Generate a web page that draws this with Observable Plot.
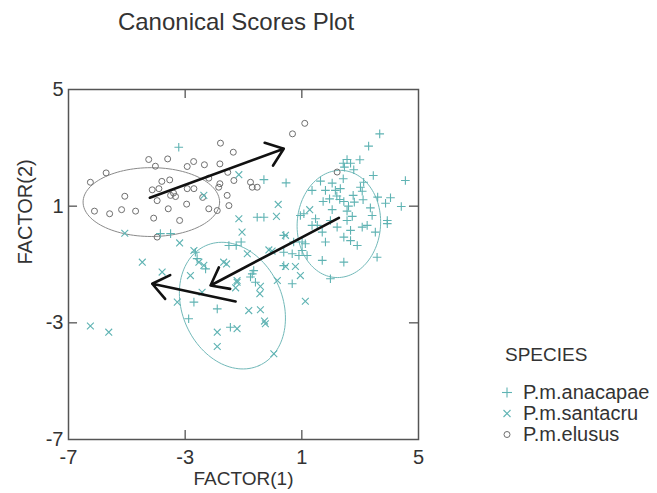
<!DOCTYPE html>
<html>
<head>
<meta charset="utf-8">
<script src="https://cdn.jsdelivr.net/npm/d3@7"></script>
<script src="https://cdn.jsdelivr.net/npm/@observablehq/plot@0.6"></script>
<style>
  body { margin: 0; background: #fff; }
  #wrap { position: relative; width: 657px; height: 493px; font-family: "Liberation Sans", Arial, sans-serif; color: #333; }
  #wrap > svg { position: absolute; left: 0; top: 0; }
  #title { position: absolute; left: 0; top: 8px; width: 472px; text-align: center; font-size: 24px; line-height: 28px; color: #333; }
  #legend { position: absolute; left: 496px; top: 340px; font-size: 20px; color: #333; }
  #legend .head { margin-left: 9px; font-size: 19px; line-height: 30px; height: 30px; }
  #legend .row { display: flex; align-items: center; height: 21px; line-height: 21px; }
  #legend .row svg { width: 22px; height: 21px; margin-right: 5px; }
</style>
</head>
<body>
<div id="wrap"></div>
<script>
// ---- data ----
const title = "Canonical Scores Plot";
const xLabel = "FACTOR(1)";
const yLabel = "FACTOR(2)";
const legendTitle = "SPECIES";
const speciesNames = ["P.m.anacapae", "P.m.santacru", "P.m.elusus"];
const xTicks = [-7, -3, 1, 5];
const yTicks = [5, 1, -3, -7];

const anacapaeX = [3.67,3.29,2.99,2.42,2.67,2.46,2.78,3.45,4.55,0.46,1.64,2.04,2.42,1.81,2.15,2.32,3.12,2.76,3.07,1.73,2.30,2.44,2.80,3.10,3.60,4.04,4.41,3.87,1.35,2.04,2.55,2.73,3.35,3.41,3.93,1.07,1.47,-0.30,-0.53,-0.30,0.95,3.07,3.24,3.52,2.21,1.70,1.81,1.01,1.12,0.38,0.72,2.67,2.90,3.93,1.01,0.38,0.67,0.90,1.18,1.70,1.98,2.44,2.44,2.67,1.35,1.53,-1.08,-1.25,-0.65,-0.76,-1.50,-2.65,-2.59,-2.30,-0.70,-0.59,-1.90,-2.70,-2.88,-1.45,-3.22,-3.50,-3.85,2.55,3.01,2.55,1.98,2.20,1.95,2.60,3.58,0.67,0.38];
const anacapaeY = [3.48,3.06,2.59,2.47,2.47,2.34,2.25,2.05,1.88,1.80,1.86,1.79,1.94,1.54,1.54,1.60,1.82,1.37,1.51,1.16,1.23,1.16,1.14,1.22,1.31,1.29,0.99,1.10,1.54,0.88,0.83,0.65,0.94,0.68,0.51,0.74,0.57,1.91,0.62,0.62,0.68,0.28,0.34,0.11,0.28,0.11,-0.23,-0.52,-0.29,0.00,-0.23,-0.18,-0.35,0.40,-0.23,-0.58,-0.63,-0.69,-0.69,-0.86,-1.49,-0.92,-0.06,0.17,0.34,0.34,-0.23,-0.35,-1.21,-1.43,-0.35,-0.58,-0.80,-1.15,-1.32,-1.61,-2.52,-2.29,-2.86,-3.15,3.02,0.06,0.06,2.60,1.65,0.51,0.51,1.35,1.25,1.00,-0.75,-1.66,-1.04];

const santacruX = [-2.36,-1.16,-1.05,-5.07,-3.19,-2.70,-1.16,0.19,0.13,1.27,0.44,-0.13,-0.02,-0.87,0.44,0.78,0.95,0.16,-1.22,-1.27,-0.42,-0.44,1.12,-0.82,-0.42,-0.28,-0.25,0.04,-2.53,-2.36,-1.68,-1.58,-2.82,-3.79,-2.42,-3.27,-1.22,-1.22,-1.90,-1.90,-4.47,-6.25,-5.62];
const santacruY = [1.37,0.57,0.11,0.07,-0.26,-0.52,2.08,1.06,0.65,0.88,0.00,-0.50,-0.54,-0.63,-1.07,-1.07,-1.38,-1.55,-1.55,-1.80,-1.75,-2.00,-2.26,-2.58,-2.55,-2.94,-3.03,-4.06,-0.92,-1.03,-0.92,-0.98,-1.38,-1.26,-1.95,-2.29,-1.61,-3.20,-3.32,-3.81,-0.92,-3.11,-3.32];

const elususX = [-1.79,-1.35,-4.25,-3.60,-2.71,-2.93,-2.34,-1.81,-5.71,-6.25,-4.02,-3.53,-4.13,-3.90,-3.50,-3.33,-2.93,-2.70,-2.19,-1.81,-1.85,-1.33,-1.54,-5.07,-3.96,-2.95,-1.56,-1.50,-6.11,-5.59,-5.18,-4.70,-3.58,-2.19,-1.90,-4.08,-3.19,-3.96,-0.76,-0.70,-0.53,0.68,1.10,2.21,-3.40,-3.80,-2.40];
const elususY = [3.16,2.85,2.60,2.62,2.53,2.36,2.42,2.45,2.14,1.82,2.37,1.90,1.56,1.60,1.37,1.33,1.60,1.60,1.96,1.77,1.65,1.88,2.16,1.34,1.19,1.07,1.37,1.02,0.83,0.74,0.88,0.83,0.91,0.91,0.85,0.59,0.51,-0.06,1.82,1.65,1.65,3.48,3.84,2.17,1.45,1.85,1.30];

// confidence ellipses: center, semi-axes, rotation (degrees)
const ellipseSpecies = ["P.m.anacapae", "P.m.santacru", "P.m.elusus"];
const ellipseCx = [2.27, -1.38, -4.16];
const ellipseCy = [0.39, -2.41, 1.14];
const ellipseA = [1.84, 2.25, 2.34];
const ellipseB = [1.43, 1.72, 1.18];
const ellipseAngle = [86, -66, 0];

// group-centroid arrows
const arrowX1 = [-4.21, 2.27, -1.27];
const arrowY1 = [1.29, 0.60, -2.27];
const arrowX2 = [0.38, -2.13, -4.13];
const arrowY2 = [2.97, -1.72, -1.66];

// ---- build tables ----
const teal = "#5fb3b3";
const ellTeal = "#72b9b9";
const grey = "#6f6f6f";
const toPts = (xs, ys) => xs.map((x, i) => ({x, y: ys[i]}));
const anacapae = toPts(anacapaeX, anacapaeY);
const santacru = toPts(santacruX, santacruY);
const elusus = toPts(elususX, elususY);

const ellipseLines = [];
ellipseSpecies.forEach((s, k) => {
  const th = ellipseAngle[k] * Math.PI / 180;
  for (let deg = 0; deg <= 360; deg += 3) {
    const t = deg * Math.PI / 180;
    const u = ellipseA[k] * Math.cos(t), v = ellipseB[k] * Math.sin(t);
    ellipseLines.push({species: s, x: ellipseCx[k] + u * Math.cos(th) - v * Math.sin(th), y: ellipseCy[k] + u * Math.sin(th) + v * Math.cos(th)});
  }
});
const arrows = arrowX1.map((x1, i) => ({x1, y1: arrowY1[i], x2: arrowX2[i], y2: arrowY2[i]}));
const innerX = xTicks.slice(1, -1);
const innerY = yTicks.slice(1, -1);
const tl = 0.31; // inward tick length in data units
const fmt = d => String(d);

const plot = Plot.plot({
  width: 657,
  height: 493,
  marginTop: 89,
  marginRight: 239,
  marginBottom: 54,
  marginLeft: 68,
  style: {fontFamily: "'Liberation Sans', Arial, sans-serif", fontSize: "20px", color: "#333", background: "transparent"},
  x: {domain: [-7, 5]},
  y: {domain: [-7, 5]},
  marks: [
    Plot.axisX({ticks: xTicks, tickFormat: fmt, tickSize: 0, tickPadding: 10, label: null, fill: "#333"}),
    Plot.axisY({ticks: yTicks, tickFormat: fmt, tickSize: 0, tickPadding: 5, label: null, fill: "#333"}),
    Plot.text([xLabel], {frameAnchor: "bottom", dy: 45, fill: "#333", fontSize: 19}),
    Plot.text([yLabel], {frameAnchor: "left", dx: -43, rotate: -90, fill: "#333", fontSize: 20}),
    Plot.line(ellipseLines.filter(d => d.species === "P.m.elusus"), {x: "x", y: "y", stroke: "#8a8a8a", strokeWidth: 1, curve: "linear-closed"}),
    Plot.line(ellipseLines.filter(d => d.species !== "P.m.elusus"), {x: "x", y: "y", z: "species", stroke: ellTeal, strokeWidth: 1, curve: "linear-closed"}),
    Plot.dot(elusus, {x: "x", y: "y", symbol: "circle", r: 3, stroke: grey, fill: "none", strokeWidth: 1}),
    Plot.dot(santacru, {x: "x", y: "y", symbol: "times", r: 3.2, stroke: teal, strokeWidth: 1.1}),
    Plot.dot(anacapae, {x: "x", y: "y", symbol: "plus", r: 2.9, stroke: teal, strokeWidth: 1.1}),
    Plot.arrow(arrows, {x1: "x1", y1: "y1", x2: "x2", y2: "y2", stroke: "#111", strokeWidth: 2.6, headLength: 11.5, headAngle: 75}),
    Plot.ruleX(innerX, {x: d => d, y1: -7, y2: -7 + tl, stroke: "#555", strokeWidth: 1.3}),
    Plot.ruleX(innerX, {x: d => d, y1: 5, y2: 5 - tl, stroke: "#555", strokeWidth: 1.3}),
    Plot.ruleY(innerY, {y: d => d, x1: -7, x2: -7 + tl, stroke: "#555", strokeWidth: 1.3}),
    Plot.ruleY(innerY, {y: d => d, x1: 5, x2: 5 - tl, stroke: "#555", strokeWidth: 1.3}),
    Plot.frame({stroke: "#555", strokeWidth: 1.5})
  ]
});

const wrap = document.getElementById("wrap");
wrap.appendChild(plot);

const t = document.createElement("div");
t.id = "title";
t.textContent = title;
wrap.appendChild(t);

const legendSymbols = [
  `<line x1="6" y1="10.5" x2="16" y2="10.5" stroke="${teal}" stroke-width="1.1"/><line x1="11" y1="5.5" x2="11" y2="15.5" stroke="${teal}" stroke-width="1.1"/>`,
  `<line x1="7.5" y1="7" x2="14.5" y2="14" stroke="${teal}" stroke-width="1.1"/><line x1="7.5" y1="14" x2="14.5" y2="7" stroke="${teal}" stroke-width="1.1"/>`,
  `<circle cx="11" cy="10.5" r="3" fill="none" stroke="${grey}" stroke-width="1"/>`
];
const lg = document.createElement("div");
lg.id = "legend";
let html = `<div class="head">${legendTitle}</div><div style="height:12px"></div>`;
speciesNames.forEach((s, i) => {
  html += `<div class="row"><svg viewBox="0 0 22 21">${legendSymbols[i]}</svg><span>${s}</span></div>`;
});
lg.innerHTML = html;
wrap.appendChild(lg);
</script>
</body>
</html>
